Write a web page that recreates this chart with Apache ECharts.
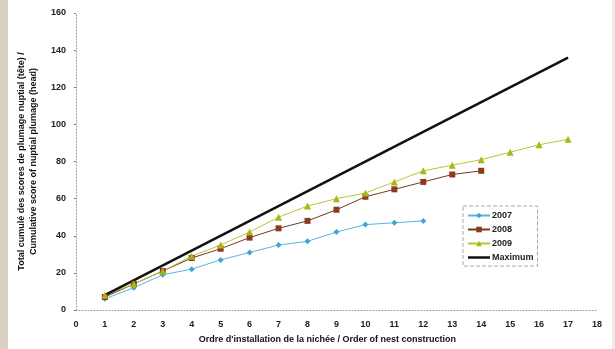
<!DOCTYPE html>
<html>
<head>
    <meta charset="utf-8" />
    <title>Cumulative nuptial plumage score</title>
    <script src="https://cdn.jsdelivr.net/npm/echarts@6/dist/echarts.min.js"></script>
    <style type="text/css">
        * { margin: 0; padding: 0; box-sizing: border-box; }
        html, body { width: 615px; height: 349px; background: #fff; }
        #chart {
            width: 615px;
            height: 349px;
            border-left: 8px solid #d9d0c1;
            border-right: 3px solid #ecebe8;
        }
    </style>
</head>
<body>
    <div id="chart"></div>
</body>
</html>
<script type="text/javascript">
    // ordre d'installation (x)
    var nests2007 = [1, 2, 3, 4, 5, 6, 7, 8, 9, 10, 11, 12];
    var nests2008 = [1, 2, 3, 4, 5, 6, 7, 8, 9, 10, 11, 12, 13, 14];
    var nests2009 = [1, 2, 3, 4, 5, 6, 7, 8, 9, 10, 11, 12, 13, 14, 15, 16, 17];
    var nestsMax = [1, 17];

    // scores cumules
    var score2007 = [6, 12, 19, 22, 27, 31, 35, 37, 42, 46, 47, 48];
    var score2008 = [7, 14, 21, 28, 33, 39, 44, 48, 54, 61, 65, 69, 73, 75];
    var score2009 = [8, 14, 21, 29, 35, 42, 50, 56, 60, 63, 69, 75, 78, 81, 85, 89, 92];
    var scoreMax = [8, 136];

    function pairs(xs, ys) {
        var out = [];
        for (var i = 0; i < xs.length; i++) {
            out.push([xs[i], ys[i]]);
        }
        return out;
    }

    var font = 'Liberation Sans, Arial, sans-serif';
    var dotted = { color: '#999', type: [1, 2], width: 1 };

    var myChart = echarts.init(document.getElementById('chart'));
    var option = {
        animation: false,
        textStyle: { fontFamily: font },
        grid: { left: 54, right: 15, top: 13, bottom: 38 },
        legend: {
            orient: 'vertical',
            left: 455,
            top: 206,
            itemWidth: 22,
            itemHeight: 7,
            itemGap: 5,
            padding: [5, 4, 4, 4],
            borderColor: '#aaa',
            borderWidth: 1,
            borderType: 'dashed',
            textStyle: { fontSize: 9, fontWeight: 'bold', color: '#222', padding: [0, 0, 0, -3] },
            data: ['2007', '2008', '2009', { name: 'Maximum', icon: 'path://M0,0 L22,0 L22,2.5 L0,2.5 Z' }]
        },
        xAxis: {
            type: 'value',
            min: 0,
            max: 18,
            interval: 1,
            name: "Ordre d'installation de la nichée / Order of nest construction",
            nameLocation: 'middle',
            nameGap: 25,
            nameTextStyle: { fontSize: 9, fontWeight: 'bold', color: '#111', padding: [0, 18, 0, 0] },
            axisLine: { lineStyle: dotted },
            axisTick: { show: false },
            axisLabel: { fontSize: 9, fontWeight: 'bold', color: '#222', margin: 10 },
            splitLine: { show: false }
        },
        yAxis: {
            type: 'value',
            min: 0,
            max: 160,
            interval: 20,
            name: 'Total cumulé des scores de plumage nuptial (tête) /\nCumulative score of nuptial plumage (head)',
            nameLocation: 'middle',
            nameGap: 30,
            nameTextStyle: { fontSize: 9, fontWeight: 'bold', color: '#111', lineHeight: 12 },
            axisLine: { show: true, lineStyle: dotted },
            axisTick: { show: true, length: 2, lineStyle: { color: '#777' } },
            axisLabel: { fontSize: 9, fontWeight: 'bold', color: '#222', margin: 10 },
            splitLine: { show: false }
        },
        series: [
            {
                name: '2007',
                type: 'line',
                data: pairs(nests2007, score2007),
                symbol: 'diamond',
                symbolSize: 6,
                itemStyle: { color: '#3ea6d2' },
                lineStyle: { color: '#5ab4dc', width: 1 }
            },
            {
                name: '2008',
                type: 'line',
                data: pairs(nests2008, score2008),
                symbol: 'rect',
                symbolSize: 6,
                itemStyle: { color: '#8e3b1c' },
                lineStyle: { color: '#6e3a26', width: 1 }
            },
            {
                name: '2009',
                type: 'line',
                data: pairs(nests2009, score2009),
                symbol: 'triangle',
                symbolSize: 7,
                itemStyle: { color: '#aab618' },
                lineStyle: { color: '#bcc433', width: 1 }
            },
            {
                name: 'Maximum',
                type: 'line',
                data: pairs(nestsMax, scoreMax),
                symbol: 'none',
                itemStyle: { color: '#111' },
                lineStyle: { color: '#111', width: 2.5 }
            }
        ]
    };
    myChart.setOption(option);
</script>
